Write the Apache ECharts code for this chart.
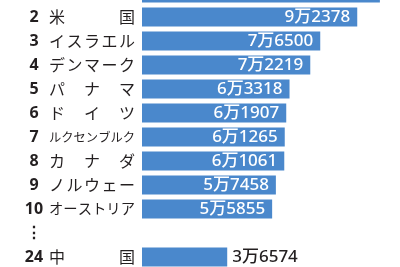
<!DOCTYPE html>
<html>
<head>
<meta charset="utf-8">
<script src="https://cdn.jsdelivr.net/npm/echarts@6/dist/echarts.min.js"></script>
<style>
  html, body { margin: 0; padding: 0; background: #fff; }
  #chart { width: 400px; height: 267px; }
</style>
</head>
<body>
<div id="chart"></div>
<script>
// 順位・国名・値（ドル）
const ranks = ["1", "2", "3", "4", "5", "6", "7", "8", "9", "10", "⋮", "24"]
const countries = ["", "米国", "イスラエル", "デンマーク", "パナマ", "ドイツ", "ルクセンブルク", "カナダ", "ノルウェー", "オーストリア", "", "中国"]
const values = [102100, 92378, 76500, 72219, 63318, 61907, 61265, 61061, 57458, 55855, null, 36574]

const slots = ranks.map((_, i) => String(i))
const textColor = "#231f20"
const barColor = "#4a88cc"
const nameWidth = 86

// 国名を均等割り付けするための rich スタイル
const rich = {}
countries.forEach((name, k) => {
  const chars = Array.from(name)
  const n = chars.length
  if (n < 2) return
  const fs = Math.min(16, nameWidth / n)
  const step = (nameWidth - fs) / (n - 1)
  rich["a" + k] = { fontSize: fs, width: step, align: "left", color: textColor }
  rich["b" + k] = { fontSize: fs, width: fs, align: "left", color: textColor }
})

const fmtYen = (v) => Math.floor(v / 10000) + "万" + String(v % 10000).padStart(4, "0")

const chart = echarts.init(document.getElementById("chart"))

const option = {
  backgroundColor: "#fff",
  animation: false,
  textStyle: { fontFamily: "'Noto Sans CJK JP', 'Noto Sans', sans-serif" },
  grid: {
    left: 142,
    right: 1.7,
    top: -19,
    bottom: -2,
    containLabel: false,
    outerBoundsMode: "none",
  },
  xAxis: {
    type: "value",
    min: 0,
    max: 110000,
    show: false,
  },
  yAxis: [
    {
      type: "category",
      data: slots,
      inverse: true,
      position: "left",
      axisLine: { show: false },
      axisTick: { show: false },
      axisLabel: {
        margin: 7,
        color: textColor,
        rich: rich,
        formatter: (value, idx) => {
          const chars = Array.from(countries[idx] || "")
          if (chars.length === 0) return ""
          return chars
            .map((c, i) => "{" + (i < chars.length - 1 ? "a" : "b") + idx + "|" + c + "}")
            .join("")
        },
      },
    },
    {
      type: "category",
      data: slots,
      inverse: true,
      position: "left",
      axisLine: { show: false },
      axisTick: { show: false },
      axisLabel: {
        margin: 108,
        align: "center",
        color: textColor,
        fontFamily: "'Noto Sans', 'Noto Sans CJK JP', sans-serif",
        fontWeight: "bold",
        fontSize: 16,
        formatter: (value, idx) => ranks[idx],
      },
    },
  ],
  series: [
    {
      type: "bar",
      yAxisIndex: 0,
      barWidth: 19,
      itemStyle: { color: barColor },
      label: {
        show: true,
        position: "insideRight",
        distance: 7,
        color: "#fff",
        fontFamily: "'Noto Sans', 'Noto Sans CJK JP', sans-serif",
        fontWeight: 500,
        fontSize: 17,
        formatter: (p) => (p.value == null ? "" : fmtYen(p.value)),
      },
      data: values.map((v, i) => {
        if (i === 0) return { value: v, label: { show: false } }
        if (i === values.length - 1) {
          return { value: v, label: { position: "right", distance: 5, color: textColor } }
        }
        return v
      }),
    },
  ],
}

chart.setOption(option)
</script>
</body>
</html>
